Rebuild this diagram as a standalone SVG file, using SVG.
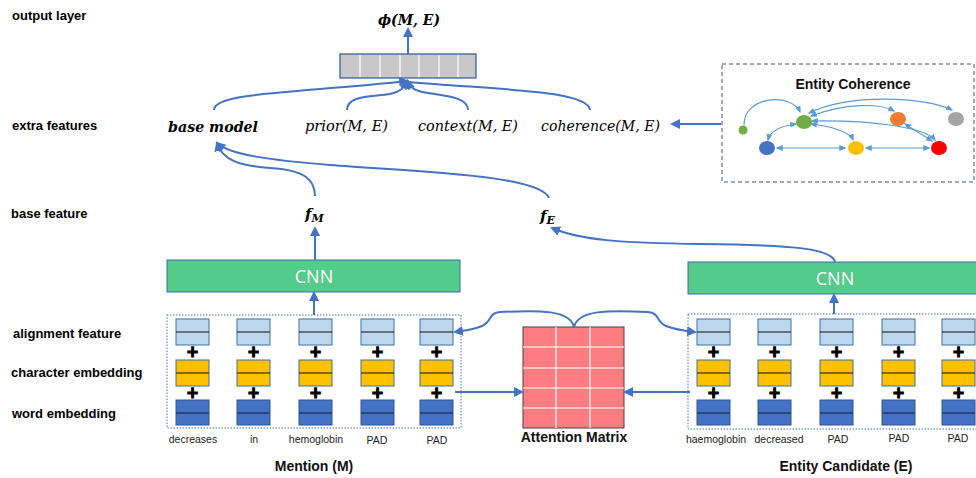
<svg xmlns="http://www.w3.org/2000/svg" width="976" height="478" viewBox="0 0 976 478">
  <defs>
    <marker id="arr" viewBox="0 0 10 10" refX="8" refY="5" markerWidth="5" markerHeight="5" orient="auto-start-reverse">
      <path d="M0,0 L10,5 L0,10 z" fill="#4472c4"/>
    </marker>
    <marker id="arrs" viewBox="0 0 10 10" refX="8" refY="5" markerWidth="6" markerHeight="6" orient="auto-start-reverse">
      <path d="M0,1 L10,5 L0,9 z" fill="#5b9bd5"/>
    </marker>
    <style>
      .lbl { font-family: "Liberation Sans", Arial, sans-serif; font-weight: bold; font-size: 13px; fill: #000; }
      .math { font-family: "DejaVu Serif", "Liberation Serif", serif; font-style: italic; font-size: 15px; fill: #000; }
      .word { font-family: "Liberation Sans", Arial, sans-serif; font-size: 10.5px; fill: #222; text-anchor: middle; }
      .title { font-family: "Liberation Sans", Arial, sans-serif; font-weight: bold; font-size: 14px; fill: #111; text-anchor: middle; }
      .conn { fill: none; stroke: #4472c4; stroke-width: 2; }
      .cohe { fill: none; stroke: #5b9bd5; stroke-width: 1.2; }
      .cnn { fill: #53cb8a; stroke: #3a6fa8; stroke-width: 1; }
      .cnnt { font-family: "Open Sans", "Liberation Sans", sans-serif; font-size: 18px; fill: #fff; text-anchor: middle; }
      .al { fill: #bdd7ee; stroke: #41719c; stroke-width: 1; }
      .ch { fill: #ffc000; stroke: #41719c; stroke-width: 1; }
      .we { fill: #4472c4; stroke: #2f5597; stroke-width: 1; }
      .mid { stroke: #111; stroke-width: 1.2; }
      .plus { font-family: "DejaVu Sans", sans-serif; font-weight: bold; font-size: 15px; fill: #000; stroke: #000; stroke-width: 1.2; text-anchor: middle; }
      .dotbox { fill: none; stroke: #4472c4; stroke-width: 1; stroke-dasharray: 1.5 1.5; }
    </style>
    <!-- one token column: alignment / character / word embedding blocks -->
    <g id="col">
      <rect class="al" x="0" y="0" width="33" height="26"/>
      <line class="mid" x1="0" y1="13" x2="33" y2="13"/>
      <text class="plus" x="16.5" y="38">+</text>
      <rect class="ch" x="0" y="41" width="33" height="26"/>
      <line class="mid" x1="0" y1="54" x2="33" y2="54"/>
      <text class="plus" x="16.5" y="79">+</text>
      <rect class="we" x="0" y="81" width="33" height="25"/>
      <line x1="0" y1="94" x2="33" y2="94" stroke="#1f3864" stroke-width="1.5"/>
    </g>
  </defs>

  <rect width="976" height="478" fill="#fff"/>

  <!-- layer labels -->
  <g id="layer-labels">
    <text class="lbl" x="12" y="20">output layer</text>
    <text class="lbl" x="12" y="130">extra features</text>
    <text class="lbl" x="11" y="218">base feature</text>
    <text class="lbl" x="13" y="338">alignment feature</text>
    <text class="lbl" x="11" y="377">character embedding</text>
    <text class="lbl" x="12" y="418">word embedding</text>
  </g>

  <!-- output -->
  <g id="output">
    <text class="math" x="378" y="25" font-weight="bold" font-size="17" textLength="62" lengthAdjust="spacingAndGlyphs">ϕ(M, E)</text>
  </g>

  <g id="feature-vector">
    <rect x="340" y="54" width="136" height="24" fill="#c8c8c8" stroke="#2f5597" stroke-width="1.2"/>
    <g stroke="#fff" stroke-width="1.2">
      <line x1="360" y1="55" x2="360" y2="77"/>
      <line x1="380" y1="55" x2="380" y2="77"/>
      <line x1="400" y1="55" x2="400" y2="77"/>
      <line x1="419" y1="55" x2="419" y2="77"/>
      <line x1="439" y1="55" x2="439" y2="77"/>
      <line x1="458" y1="55" x2="458" y2="77"/>
    </g>
  </g>

  <!-- extra features -->
  <g id="base-model"><text class="math" x="168" y="132" font-weight="bold" textLength="90" lengthAdjust="spacingAndGlyphs">base model</text></g>
  <g id="prior"><text class="math" x="305" y="131" textLength="83" lengthAdjust="spacingAndGlyphs">prior(M, E)</text></g>
  <g id="context"><text class="math" x="418" y="131" textLength="100" lengthAdjust="spacingAndGlyphs">context(M, E)</text></g>
  <g id="coherence"><text class="math" x="541" y="131" textLength="119" lengthAdjust="spacingAndGlyphs">coherence(M, E)</text></g>

  <!-- base features -->
  <g id="f-m"><text class="math" x="305" y="219" font-weight="bold" font-size="17">f<tspan font-size="11" dy="3">M</tspan></text></g>
  <g id="f-e"><text class="math" x="540" y="221" font-weight="bold" font-size="17">f<tspan font-size="11" dy="3">E</tspan></text></g>

  <!-- CNN encoders -->
  <g id="cnn-mention">
    <rect class="cnn" x="167" y="260" width="293" height="32"/>
    <text class="cnnt" x="314" y="283">CNN</text>
  </g>
  <g id="cnn-entity">
    <rect class="cnn" x="688" y="262" width="300" height="32"/>
    <text class="cnnt" x="835" y="285">CNN</text>
  </g>

  <!-- mention tokens -->
  <g id="mention">
    <rect class="dotbox" x="167" y="315" width="294" height="113"/>
    <use href="#col" x="176" y="319"/>
    <use href="#col" x="237" y="319"/>
    <use href="#col" x="299" y="319"/>
    <use href="#col" x="361" y="319"/>
    <use href="#col" x="420" y="319"/>
    <text class="word" x="193" y="443">decreases</text>
    <text class="word" x="254" y="443">in</text>
    <text class="word" x="316" y="443">hemoglobin</text>
    <text class="word" x="377" y="444">PAD</text>
    <text class="word" x="437" y="444">PAD</text>
    <text class="title" x="314" y="471">Mention (M)</text>
  </g>

  <!-- entity candidate tokens -->
  <g id="entity-candidate">
    <rect class="dotbox" x="688" y="314" width="300" height="115"/>
    <use href="#col" x="697" y="319"/>
    <use href="#col" x="758" y="319"/>
    <use href="#col" x="820" y="319"/>
    <use href="#col" x="882" y="319"/>
    <use href="#col" x="942" y="319"/>
    <text class="word" x="716" y="443">haemoglobin</text>
    <text class="word" x="779" y="443">decreased</text>
    <text class="word" x="838" y="443">PAD</text>
    <text class="word" x="899" y="442">PAD</text>
    <text class="word" x="958" y="442">PAD</text>
    <text class="title" x="846" y="471">Entity Candidate (E)</text>
  </g>

  <!-- attention matrix -->
  <g id="attention-matrix">
    <rect x="523" y="327" width="101" height="101" fill="#ff7c80" stroke="#404040" stroke-width="1"/>
    <g stroke="#fff" stroke-width="1.2">
      <line x1="556" y1="327" x2="556" y2="428"/>
      <line x1="590" y1="327" x2="590" y2="428"/>
      <line x1="523" y1="347" x2="624" y2="347"/>
      <line x1="523" y1="368" x2="624" y2="368"/>
      <line x1="523" y1="388" x2="624" y2="388"/>
      <line x1="523" y1="408" x2="624" y2="408"/>
    </g>
    <text class="title" x="574" y="442" font-size="13">Attention Matrix</text>
  </g>

  <!-- entity coherence graph -->
  <g id="entity-coherence">
    <rect x="722" y="64" width="252" height="118" fill="none" stroke="#44546a" stroke-width="1" stroke-dasharray="4 3"/>
    <text class="title" x="853" y="89" font-size="12.5">Entity Coherence</text>
    <g>
      <path class="cohe" d="M744,125 C744,95 792,93 800,112" marker-end="url(#arrs)"/>
      <path class="cohe" d="M809,113 C850,93 925,97 952,110" marker-start="url(#arrs)" marker-end="url(#arrs)"/>
      <path class="cohe" d="M811,116 C845,103 880,103 894,111" marker-start="url(#arrs)" marker-end="url(#arrs)"/>
      <path class="cohe" d="M812,121 C870,120 925,127 935,140" marker-start="url(#arrs)" marker-end="url(#arrs)"/>
      <path class="cohe" d="M905,124 L932,141" marker-start="url(#arrs)" marker-end="url(#arrs)"/>
      <path class="cohe" d="M796,124 C780,126 770,132 768,140" marker-start="url(#arrs)" marker-end="url(#arrs)"/>
      <path class="cohe" d="M811,124 C830,126 850,132 853,140" marker-start="url(#arrs)" marker-end="url(#arrs)"/>
      <path class="cohe" d="M777,148 L845,148" marker-start="url(#arrs)" marker-end="url(#arrs)"/>
      <path class="cohe" d="M866,148 L929,148" marker-start="url(#arrs)" marker-end="url(#arrs)"/>
    </g>
    <ellipse cx="743" cy="130" rx="4.5" ry="4.5" fill="#70ad47"/>
    <ellipse cx="804" cy="122" rx="8" ry="7" fill="#70ad47"/>
    <ellipse cx="898" cy="119" rx="8" ry="7" fill="#ed7d31"/>
    <ellipse cx="956" cy="119" rx="8" ry="7" fill="#a5a5a5"/>
    <ellipse cx="767" cy="148" rx="8" ry="7" fill="#4472c4"/>
    <ellipse cx="856" cy="148" rx="8" ry="7" fill="#ffc000"/>
    <ellipse cx="939" cy="148" rx="8" ry="7" fill="#ff0000"/>
  </g>

  <!-- connectors -->
  <g id="connectors">
    <line class="conn" x1="408" y1="54" x2="408" y2="29" marker-end="url(#arr)"/>
    <path class="conn" d="M214,110 C214,92 300,93 407,81" marker-end="url(#arr)"/>
    <path class="conn" d="M347,110 C347,95 372,97 390,94 C400,92 405,88 407,81" marker-end="url(#arr)"/>
    <path class="conn" d="M468,110 C468,97 445,96 428,93 C415,91 410,88 408,81" marker-end="url(#arr)"/>
    <path class="conn" d="M590,110 C588,90 500,90 408,82"/>
    <line class="conn" x1="721" y1="124" x2="672" y2="124" marker-end="url(#arr)"/>
    <path class="conn" d="M315,196 C315,180 305,170 270,168 C240,166 222,160 217,143" marker-end="url(#arr)"/>
    <path class="conn" d="M549,198 C540,175 420,172 330,165 C270,160 230,155 217,143" marker-end="url(#arr)"/>
    <line class="conn" x1="315" y1="260" x2="315" y2="228" marker-end="url(#arr)"/>
    <path class="conn" d="M835,262 C832,248 790,245 700,244 C620,243 580,240 552,228" marker-end="url(#arr)"/>
    <line class="conn" x1="314" y1="315" x2="314" y2="293" marker-end="url(#arr)"/>
    <line class="conn" x1="834" y1="314" x2="834" y2="295" marker-end="url(#arr)"/>
    <line class="conn" x1="455" y1="392" x2="522" y2="392" marker-end="url(#arr)"/>
    <line class="conn" x1="690" y1="392" x2="625" y2="392" marker-end="url(#arr)"/>
    <path class="conn" d="M574,327 C570,310 540,310 500,312 C488,313 492,322 482,326 C472,330 462,331 455,332" marker-end="url(#arr)"/>
    <path class="conn" d="M574,327 C578,310 608,310 648,312 C660,313 656,322 666,326 C676,330 686,331 695,332" marker-end="url(#arr)"/>
  </g>
</svg>
